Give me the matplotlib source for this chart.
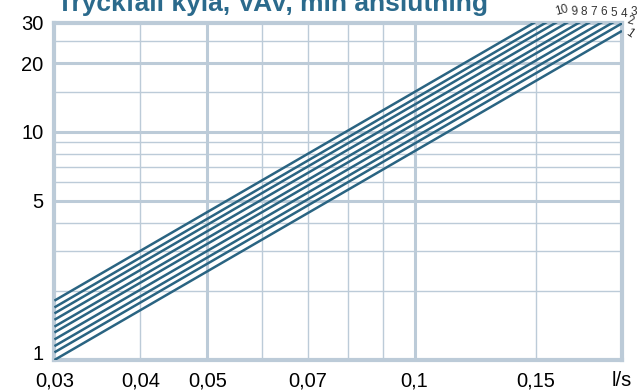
import numpy as np
import matplotlib
matplotlib.use('Agg')
import matplotlib.pyplot as plt

plt.rcParams['font.family'] = ['Liberation Sans', 'DejaVu Sans']

# flow (l/s) at the two ends of each curve
flow = [0.03, 0.2]
# pressure drop (Pa) at 0.03 l/s and at 0.2 l/s, curves 1..10
p_start = [1.00, 1.08, 1.15, 1.23, 1.32, 1.40, 1.50, 1.60, 1.70, 1.82]
p_end = [27.7, 29.9, 31.8, 34.0, 36.5, 38.7, 41.5, 44.3, 47.0, 50.3]
curve_names = ['1', '2', '3', '4', '5', '6', '7', '8', '9', '10']

xticks = [0.03, 0.04, 0.05, 0.07, 0.1, 0.15, 0.2]
xticklabels = ['0,03', '0,04', '0,05', '0,07', '0,1', '0,15', 'l/s']
yticks = [1, 5, 10, 20, 30]
yticklabels = ['1', '5', '10', '20', '30']

x_major = [0.05, 0.1]
x_minor = [0.04, 0.06, 0.07, 0.08, 0.09, 0.15]
y_major = [5, 10, 20]
y_minor = [2, 3, 4, 6, 7, 8, 9, 15, 25]

title = 'Tryckfall kyla, VAV, min anslutning'

frame_col = '#bccbd8'
line_col = '#2a6482'

W, H = 641, 390
L, R, T, B = 54.4, 622.0, 23.0, 360.0

fig = plt.figure(figsize=(W / 100, H / 100), dpi=100)
ax = fig.add_axes([L / W, (H - B) / H, (R - L) / W, (B - T) / H])
ax.set_xscale('log')
ax.set_yscale('log')
ax.set_xlim(0.03, 0.2)
ax.set_ylim(1, 30)

for v in x_minor:
    ax.axvline(v, color=frame_col, lw=1.0, zorder=1)
for v in x_major:
    ax.axvline(v, color=frame_col, lw=2.2, zorder=1)
for v in y_minor:
    ax.axhline(v, color=frame_col, lw=1.0, zorder=1)
for v in y_major:
    ax.axhline(v, color=frame_col, lw=2.2, zorder=1)

for a, b in zip(p_start, p_end):
    ax.plot(flow, [a, b], color=line_col, lw=1.8, zorder=3,
            solid_capstyle='butt')

for s in ax.spines.values():
    s.set_color(frame_col)
    s.set_linewidth(3.0)
    s.set_zorder(2)

ax.xaxis.set_minor_locator(matplotlib.ticker.NullLocator())
ax.yaxis.set_minor_locator(matplotlib.ticker.NullLocator())
ax.set_xticks(xticks)
ax.set_xticklabels(xticklabels)
ax.set_yticks(yticks)
ax.set_yticklabels(yticklabels)
ax.tick_params(length=0, labelsize=14.5, colors='black')
ax.tick_params(axis='x', pad=8)
ax.tick_params(axis='y', pad=8)
ax.get_yticklabels()[0].set_verticalalignment('baseline')

fig.text(57 / W, 1 - 11 / H, title, fontsize=19, fontweight='bold',
         color='#2b6a8c', ha='left', va='baseline')

# curve numbers at the upper right end of the lines
label_pos = [(629, 33), (630, 21), (634, 12), (624, 14), (614, 13),
             (604, 12), (594, 12), (584, 12), (574, 12), (562, 10)]
label_rot = [-35, -15, 0, 0, 0, 0, 0, 0, 5, 15]
for name, (px, py), rot in zip(curve_names, label_pos, label_rot):
    fig.text(px / W, 1 - py / H, name, fontsize=8.5, color='#333333',
             ha='center', va='center', rotation=rot)

fig.savefig('out.png', dpi=100)
